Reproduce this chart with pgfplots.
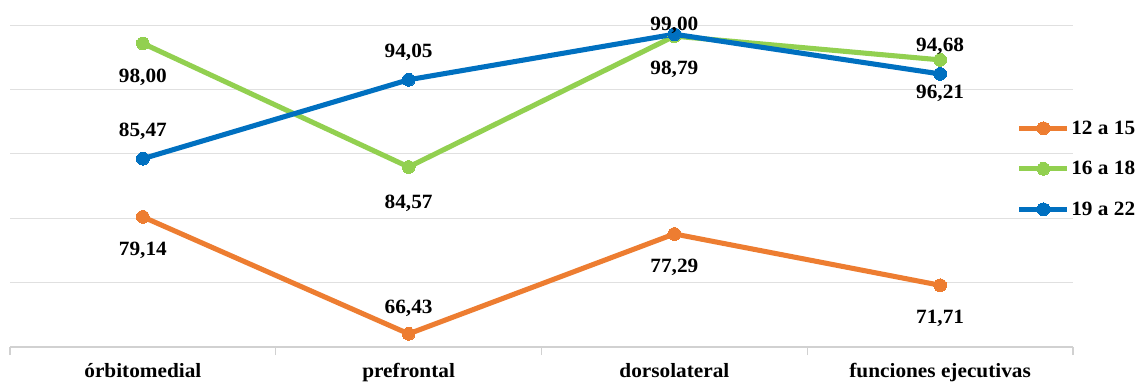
\documentclass[border=0pt]{standalone}
\usepackage{pgfplots}
\pgfplotsset{compat=1.18}
\usepackage{fontspec}
\setmainfont{Liberation Serif}[BoldFont={Liberation Serif Bold}, FakeStretch=1.05]
\definecolor{corange}{HTML}{ED7D31}
\definecolor{cgreen}{HTML}{92D050}
\definecolor{cblue}{HTML}{0070C0}
\newcommand{\lblfont}{\rmfamily\fontsize{15.2}{18}\selectfont\bfseries}
\begin{document}
\begin{tikzpicture}
\begin{axis}[
  at={(7.5pt,27pt)}, anchor=south west,
  scale only axis, width=797.25pt, height=241.5pt,
  xmin=-0.5, xmax=3.5, ymin=65, ymax=100,
  xtick={0,1,2,3},
  xticklabels={órbitomedial,prefrontal,dorsolateral,funciones ejecutivas},
  minor xtick={-0.5,0.5,1.5,2.5,3.5},
  axis x line*=bottom, axis y line*=left,
  y axis line style={draw=none},
  x axis line style={draw=black!18, line width=1pt, -},
  xtick align=outside,
  major x tick style={draw=none},
  minor x tick style={draw=black!18, line width=1pt},
  minor tick length=6pt,
  ytick={65,72,...,100}, yticklabels={},
  major y tick style={draw=none},
  ymajorgrids, grid style={black!12, line width=0.7pt},
  tick label style={font=\lblfont},
  xticklabel style={yshift=-4.5pt},
  clip=false,
  point meta=explicit symbolic,
  legend style={at={(0.947,0.708)}, anchor=north west, draw=none, fill=none,
    font=\lblfont, row sep=16.8pt, inner sep=0pt, nodes={inner sep=1pt}},
  legend cell align=left,
  legend image code/.code={\draw[mark repeat=2,mark phase=2,#1] plot coordinates {(0pt,0pt) (18pt,0pt) (36pt,0pt)};},
  every axis plot/.append style={line width=3.8pt, line join=round},
]
\addplot[corange, mark=*, mark size=4.8pt, mark options={solid, line width=0pt}]
  coordinates {(0,79.14) (1,66.43) (2,77.29) (3,71.71)};
\addlegendentry{12 a 15}
\addplot[cgreen, mark=*, mark size=4.8pt, mark options={solid, line width=0pt}]
  coordinates {(0,98.00) (1,84.57) (2,98.79) (3,96.21)};
\addlegendentry{16 a 18}
\addplot[cblue, mark=*, mark size=4.8pt, mark options={solid, line width=0pt}]
  coordinates {(0,85.47) (1,94.05) (2,99.00) (3,94.68)};
\addlegendentry{19 a 22}
% labels below
\addplot[draw=none, mark=none, forget plot, nodes near coords,
  nodes near coords style={anchor=base, yshift=-29pt, font=\lblfont, text=black}]
  coordinates {(0,79.14) [79,14] (2,77.29) [77,29] (3,71.71) [71,71]
               (0,98.00) [98,00] (2,98.79) [98,79] (3,96.21) [96,21]};
\addplot[draw=none, mark=none, forget plot, nodes near coords,
  nodes near coords style={anchor=base, yshift=-31pt, font=\lblfont, text=black}]
  coordinates {(1,84.57) [84,57]};
% labels above
\addplot[draw=none, mark=none, forget plot, nodes near coords,
  nodes near coords style={anchor=base, yshift=17pt, font=\lblfont, text=black}]
  coordinates {(0,85.47) [85,47] (1,94.05) [94,05] (3,94.68) [94,68]};
\addplot[draw=none, mark=none, forget plot, nodes near coords,
  nodes near coords style={anchor=base, yshift=15pt, font=\lblfont, text=black}]
  coordinates {(1,66.43) [66,43]};
\addplot[draw=none, mark=none, forget plot, nodes near coords,
  nodes near coords style={anchor=base, yshift=2.5pt, font=\lblfont, text=black}]
  coordinates {(2,99.00) [99,00]};
\end{axis}
\pgfresetboundingbox
\path[use as bounding box] (0,0) rectangle (853.5pt,287.25pt);
\end{tikzpicture}
\end{document}
